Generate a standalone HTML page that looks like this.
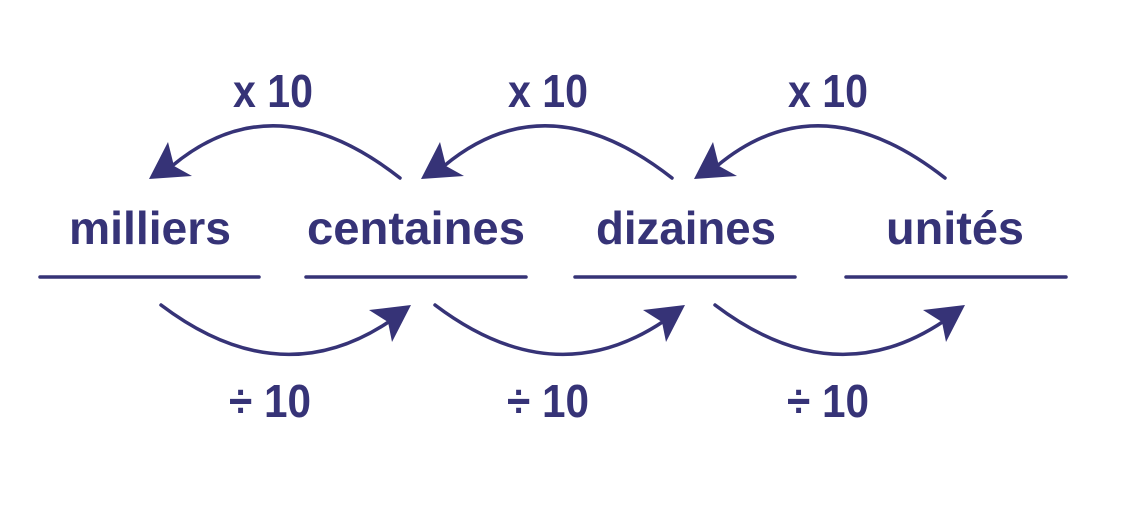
<!DOCTYPE html>
<html><head><meta charset="utf-8"><style>
html,body{margin:0;padding:0;background:#fff;}
svg{display:block;}
text{font-family:"Liberation Sans",sans-serif;font-weight:bold;fill:#363377;text-anchor:middle;}
</style></head><body>
<svg width="1146" height="511" viewBox="0 0 1146 511">
<defs>
<g id="top">
<path d="M400,178 Q275,80 172,166" fill="none" stroke="#363377" stroke-width="3.5" stroke-linecap="round"/>
<polygon points="149,179 168,142 174,166 192,176" fill="#363377"/>
</g>
<g id="bot">
<path d="M161,305 Q280,395 390,321" fill="none" stroke="#363377" stroke-width="3.5" stroke-linecap="round"/>
<polygon points="411,305 369,310 388,322 392,342" fill="#363377"/>
</g>
</defs>
<use href="#top"/>
<use href="#top" transform="translate(272,0)"/>
<use href="#top" transform="translate(545,0)"/>
<use href="#bot"/>
<use href="#bot" transform="translate(274,0)"/>
<use href="#bot" transform="translate(554,0)"/>
<g stroke="#363377" stroke-width="3.5" stroke-linecap="round">
<line x1="40" y1="277" x2="259" y2="277"/>
<line x1="306" y1="277" x2="526" y2="277"/>
<line x1="575" y1="277" x2="795" y2="277"/>
<line x1="846" y1="277" x2="1066" y2="277"/>
</g>
<g font-size="46">
<text x="150" y="244" textLength="162" lengthAdjust="spacingAndGlyphs">milliers</text>
<text x="416" y="244" textLength="218" lengthAdjust="spacingAndGlyphs">centaines</text>
<text x="686" y="244" textLength="180" lengthAdjust="spacingAndGlyphs">dizaines</text>
<text x="955" y="244" textLength="138" lengthAdjust="spacingAndGlyphs">unités</text>
</g>
<g font-size="46">
<text x="273" y="107" textLength="80" lengthAdjust="spacingAndGlyphs">x 10</text>
<text x="548" y="107" textLength="80" lengthAdjust="spacingAndGlyphs">x 10</text>
<text x="828" y="107" textLength="80" lengthAdjust="spacingAndGlyphs">x 10</text>
<text x="270" y="417" textLength="82" lengthAdjust="spacingAndGlyphs">÷ 10</text>
<text x="548" y="417" textLength="82" lengthAdjust="spacingAndGlyphs">÷ 10</text>
<text x="828" y="417" textLength="82" lengthAdjust="spacingAndGlyphs">÷ 10</text>
</g>
</svg>
</body></html>
